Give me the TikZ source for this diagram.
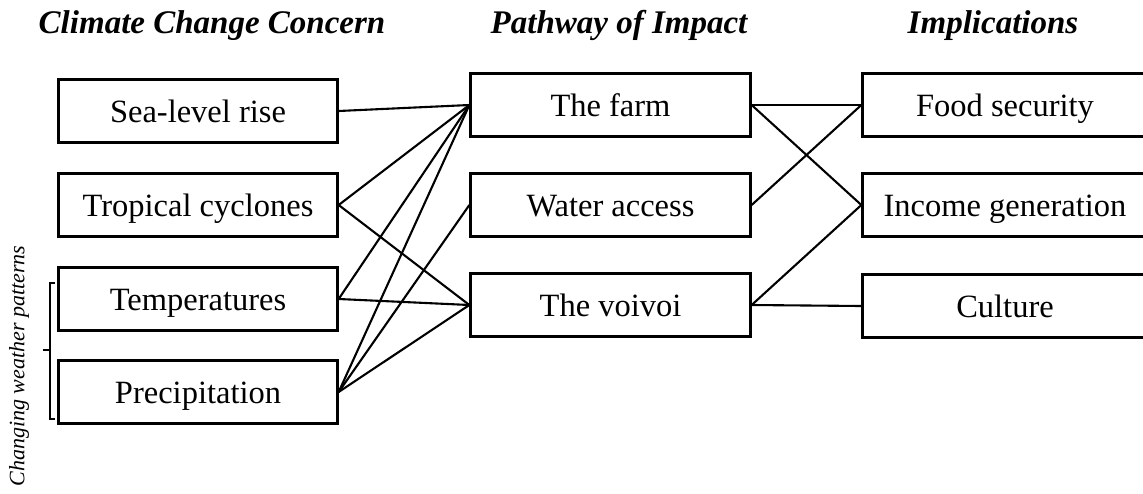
\documentclass[tikz,border=0pt]{standalone}
\usepackage{fontspec}
\setmainfont{Liberation Serif}
\begin{document}
\begin{tikzpicture}[x=1pt,y=-1pt,
  box/.style={draw,line width=2.3pt,rectangle,inner sep=0pt,minimum height=63pt,text height=23pt,text depth=0pt,font=\fontsize{32.5}{36}\selectfont},
  lbox/.style={box,minimum width=279pt},
  mbox/.style={box,minimum width=280pt},
  rbox/.style={box,minimum width=285pt},
  head/.style={font=\fontsize{33}{36}\selectfont\bfseries\itshape,anchor=base,inner sep=0pt},
  link/.style={line width=2.1pt}]
\useasboundingbox (0,0) rectangle (1143,493);
\begin{scope}
\clip (0,0) rectangle (1143,493);
% headers
\node[head] (h1) at (212,33) {Climate Change Concern};
\node[head] (h2) at (619,33) {Pathway of Impact};
\node[head] (h3) at (993,33) {Implications};
% left column
\node[lbox] (sea) at (198,111) {Sea-level rise};
\node[lbox] (trop) at (198,205) {Tropical cyclones};
\node[lbox] (temp) at (198,299) {Temperatures};
\node[lbox] (prec) at (198,392) {Precipitation};
% middle column
\node[mbox] (farm) at (610.5,105) {The farm};
\node[mbox] (water) at (610.5,205) {Water access};
\node[mbox] (voi) at (610.5,305) {The voivoi};
% right column
\node[rbox] (food) at (1005,105) {Food security};
\node[rbox] (inc) at (1005,205) {Income generation};
\node[rbox] (cult) at (1005,306) {Culture};
% connectors left -> middle
\draw[link] (sea.east) -- (farm.west);
\draw[link] (trop.east) -- (farm.west);
\draw[link] (trop.east) -- (voi.west);
\draw[link] (temp.east) -- (farm.west);
\draw[link] (temp.east) -- (voi.west);
\draw[link] (prec.east) -- (farm.west);
\draw[link] (prec.east) -- (water.west);
\draw[link] (prec.east) -- (voi.west);
% connectors middle -> right
\draw[link] (farm.east) -- (food.west);
\draw[link] (farm.east) -- (inc.west);
\draw[link] (water.east) -- (food.west);
\draw[link] (voi.east) -- (inc.west);
\draw[link] (voi.east) -- (cult.west);
% bracket
\coordinate (bt) at (55,283);
\coordinate (bb) at (55,419);
\coordinate (bm) at (43,350);
\draw[line width=2pt] (bt) -- (50,283) -- (50,419) -- (bb);
\draw[line width=2pt] (50,350) -- (bm);
\node[rotate=90,font=\fontsize{22}{24}\selectfont\itshape,inner sep=0pt] (cw) at (19,366) {Changing weather patterns};
\end{scope}
\end{tikzpicture}
\end{document}
